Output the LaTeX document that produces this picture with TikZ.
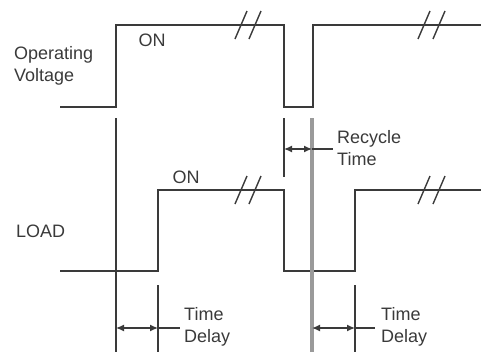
\documentclass[tikz,border=0pt]{standalone}
\usepackage{fontspec}
\setmainfont{Liberation Sans}
\usetikzlibrary{arrows.meta}
\definecolor{ink}{HTML}{3A3A3A}
\definecolor{guide}{HTML}{9A9A9A}
\begin{document}
\begin{tikzpicture}[x=1pt,y=-1pt,
  wave/.style={draw=ink,line width=2.6pt,line join=miter},
  vline/.style={draw=ink,line width=1.6pt},
  gline/.style={draw=guide,line width=4pt},
  dim/.style={draw=ink,line width=1.3pt,{Latex[length=8pt,width=7pt]}-{Latex[length=8pt,width=7pt]}},
  lead/.style={draw=ink,line width=1.2pt},
  brk/.style={draw=ink,line width=1.4pt},
  lbl/.style={font=\fontsize{18}{22}\selectfont,text=ink,inner sep=0pt,align=left}]
\useasboundingbox (0,0) rectangle (486,354);

% waveforms
\draw[wave] (60,107) -- (116,107) -- (116,25) -- (284,25) -- (284,107) -- (313,107) -- (313,25) -- (481,25);
\draw[wave] (60,271) -- (158,271) -- (158,190) -- (284,190) -- (284,271) -- (355,271) -- (355,190) -- (481,190);

% break marks
\foreach \c in {241,255,424,439}{
  \draw[brk] (\c-6,39) -- (\c+6,11);
  \draw[brk] (\c-6,204) -- (\c+6,176);
}

% vertical reference lines
\coordinate (a1) at (116,118); \coordinate (a2) at (116,352);
\coordinate (b1) at (158,285); \coordinate (b2) at (158,352);
\coordinate (c1) at (284,118); \coordinate (c2) at (284,177);
\coordinate (g1) at (312,118); \coordinate (g2) at (312,352);
\coordinate (d1) at (355,285); \coordinate (d2) at (355,352);
\draw[vline] (a1) -- (a2);
\draw[vline] (b1) -- (b2);
\draw[vline] (c1) -- (c2);
\draw[vline] (d1) -- (d2);
\draw[gline] (g1) -- (g2);

% dimension arrows
\coordinate (td1l) at (116,328); \coordinate (td1r) at (158,328); \coordinate (td1e) at (180,328);
\coordinate (rtl) at (284,149); \coordinate (rtr) at (312,149); \coordinate (rte) at (333,149);
\coordinate (td2l) at (312,328); \coordinate (td2r) at (355,328); \coordinate (td2e) at (375,328);
\draw[dim] (td1l) -- (td1r); \draw[lead] (td1r) -- (td1e);
\draw[dim] (rtl) -- (rtr); \draw[lead] (rtr) -- (rte);
\draw[dim] (td2l) -- (td2r); \draw[lead] (td2r) -- (td2e);

% labels
\node[lbl,anchor=west] (opv) at (14,66) {Operating\\Voltage};
\node[lbl] (on1) at (152,40) {ON};
\node[lbl,anchor=west] (load) at (16,231) {LOAD};
\node[lbl] (on2) at (186,177) {ON};
\node[lbl,anchor=west] (rec) at (337,148) {Recycle\\Time};
\node[lbl,anchor=west] (del1) at (184,327) {Time\\Delay};
\node[lbl,anchor=west] (del2) at (381,327) {Time\\Delay};
\end{tikzpicture}
\end{document}
